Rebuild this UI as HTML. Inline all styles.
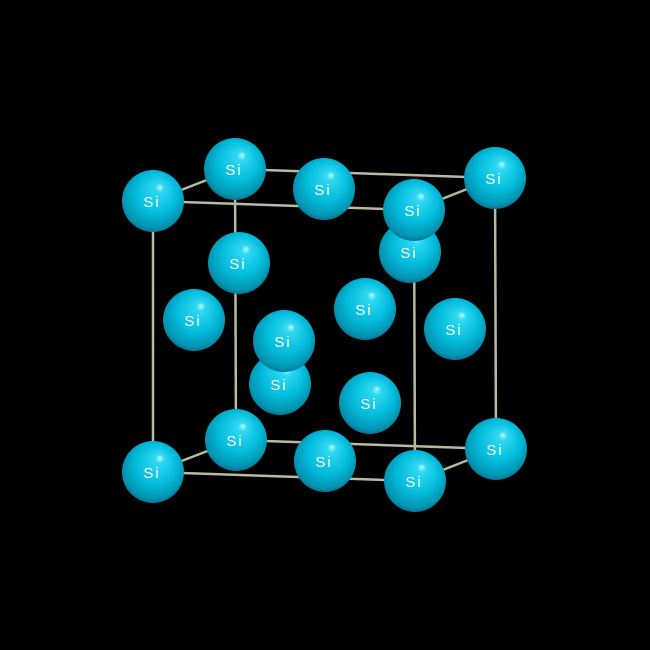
<!DOCTYPE html>
<html><head><meta charset="utf-8"><style>
html,body{margin:0;padding:0;background:#000;width:650px;height:650px;overflow:hidden}
svg{display:block}
text{font-family:"Liberation Sans",sans-serif;font-weight:normal;font-size:15px;fill:#fff;letter-spacing:2px}
</style></head><body>
<svg id="c" width="650" height="650">
<defs>
<radialGradient id="g" cx="0.5" cy="0.45" r="0.6" fx="0.62" fy="0.27">
<stop offset="0" stop-color="#b8fbff"/>
<stop offset="0.12" stop-color="#30d8f2"/>
<stop offset="0.55" stop-color="#02bcdc"/>
<stop offset="0.85" stop-color="#0394b2"/>
<stop offset="1" stop-color="#05607a"/>
</radialGradient>
</defs>
<rect width="650" height="650" fill="#000"/>
<g id="bonds"></g><g id="atoms"></g>
</svg>
<script>
const atomX=[495,235,324,410,239,194,365,455,496,236,280,284,370,325,153,414,415,153];
const atomY=[178,169,189,252,263,320,309,329,449,440,384,341,403,461,201,210,481,472];
const corners=[[153,201],[414,210],[415,481],[153,472],[235,169],[495,178],[496,449],[236,440]];
const edges=[[0,1],[1,2],[2,3],[3,0],[4,5],[5,6],[6,7],[7,4],[0,4],[1,5],[2,6],[3,7]];
const NS="http://www.w3.org/2000/svg";
const bg=document.getElementById('bonds'), ag=document.getElementById('atoms');
edges.forEach(function(e,i){
const l=document.createElementNS(NS,'line');
l.setAttribute('x1',corners[e[0]][0]);l.setAttribute('y1',corners[e[0]][1]);
l.setAttribute('x2',corners[e[1]][0]);l.setAttribute('y2',corners[e[1]][1]);
l.setAttribute('stroke','#b4bca0');l.setAttribute('stroke-width','2.5');


bg.appendChild(l);
});
atomX.forEach(function(x,i){
const y=atomY[i];
const g=document.createElementNS(NS,'g');


const c=document.createElementNS(NS,'circle');
c.setAttribute('cx',x);c.setAttribute('cy',y);c.setAttribute('r',31);c.setAttribute('fill','url(#g)');
g.appendChild(c);
const t=document.createElementNS(NS,'text');
t.setAttribute('x',x-1);t.setAttribute('y',y+6);t.setAttribute('text-anchor','middle');
t.textContent='Si';


g.appendChild(t);
ag.appendChild(g);
});
</script>
</body></html>
